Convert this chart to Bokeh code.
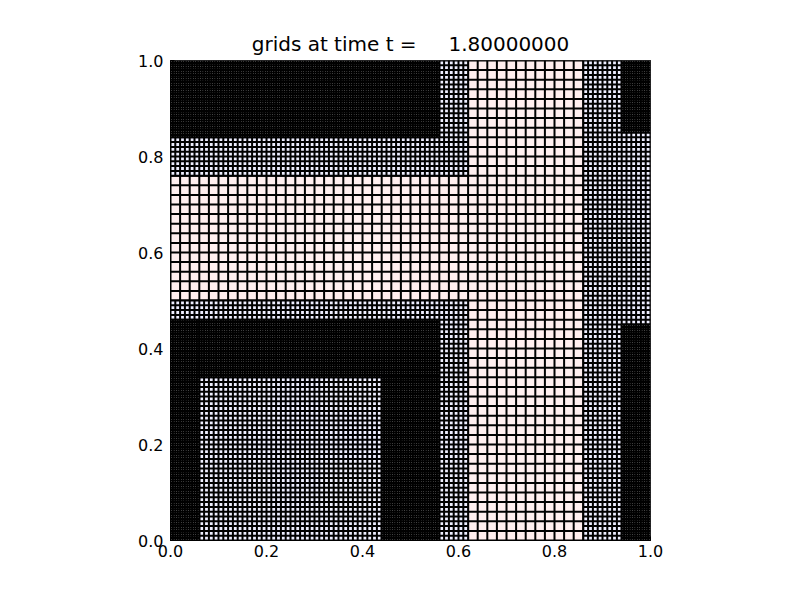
import numpy as np
from bokeh.plotting import figure
from bokeh.models import Range1d, FixedTicker, PrintfTickFormatter
from bokeh.embed import file_html
from bokeh.resources import INLINE

# AMR patches: refinement level and extents
patch_level = [1, 2, 2, 2, 3, 3, 3, 3, 3, 3]
patch_xlo = [0.00, 0.00, 0.86, 0.00, 0.00, 0.94, 0.00, 0.06, 0.44, 0.94]
patch_xhi = [1.00, 0.62, 1.00, 0.62, 0.56, 1.00, 0.06, 0.56, 0.56, 1.00]
patch_ylo = [0.00, 0.76, 0.00, 0.00, 0.84, 0.85, 0.00, 0.34, 0.00, 0.00]
patch_yhi = [1.00, 1.00, 1.00, 0.50, 1.00, 1.00, 0.46, 0.46, 0.34, 0.45]
level_dx = {1: 0.02, 2: 0.01, 3: 0.005}
level_fill = {1: "#ffeeee", 2: "#eeeeff", 3: "#ffffff"}
ticks = [0.0, 0.2, 0.4, 0.6, 0.8, 1.0]
title_text = "grids at time t =" + "\u00a0" * 5 + "1.80000000"

p = figure(width=792, height=592, output_backend="svg", toolbar_location=None,
           x_range=Range1d(0, 1), y_range=Range1d(0, 1),
           min_border_left=170, min_border_right=142,
           min_border_top=60, min_border_bottom=52)
p.grid.visible = False
p.outline_line_color = "black"
p.outline_line_width = 1

for lev in [1, 2, 3]:
    idx = [i for i, l in enumerate(patch_level) if l == lev]
    p.quad(left=[patch_xlo[i] for i in idx], right=[patch_xhi[i] for i in idx],
           bottom=[patch_ylo[i] for i in idx], top=[patch_yhi[i] for i in idx],
           fill_color=level_fill[lev], line_color=None)
    x0s, y0s, x1s, y1s = [], [], [], []
    dx = level_dx[lev]
    for i in idx:
        nx = int(round((patch_xhi[i] - patch_xlo[i]) / dx))
        ny = int(round((patch_yhi[i] - patch_ylo[i]) / dx))
        for k in range(nx + 1):
            xv = patch_xlo[i] + k * dx
            x0s.append(xv); x1s.append(xv)
            y0s.append(patch_ylo[i]); y1s.append(patch_yhi[i])
        for k in range(ny + 1):
            yv = patch_ylo[i] + k * dx
            y0s.append(yv); y1s.append(yv)
            x0s.append(patch_xlo[i]); x1s.append(patch_xhi[i])
    p.segment(x0=x0s, y0=y0s, x1=x1s, y1=y1s, line_color="black", line_width=2)

for ax in (p.xaxis[0], p.yaxis[0]):
    ax.ticker = FixedTicker(ticks=ticks)
    ax.formatter = PrintfTickFormatter(format="%.1f")
    ax.major_tick_in = 4
    ax.major_tick_out = 0
    ax.minor_tick_line_color = None
    ax.axis_line_color = "black"
    ax.major_tick_line_color = "black"
    ax.major_label_text_font = "DejaVu Sans"
    ax.major_label_text_font_size = "16px"
    ax.major_label_text_color = "black"
p.xaxis.major_label_standoff = 4
p.yaxis.major_label_standoff = 7

p.title.text = title_text
p.title.align = "center"
p.title.text_font = "DejaVu Sans"
p.title.text_font_size = "20px"
p.title.text_font_style = "normal"
p.title.text_color = "black"

open("out.html", "w").write(file_html(p, INLINE))
